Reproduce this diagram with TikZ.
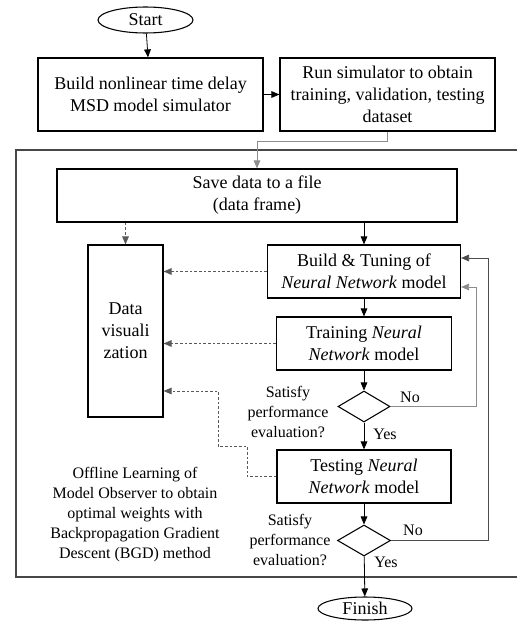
\documentclass[tikz,border=0pt]{standalone}
\usepackage{fontspec}
\setmainfont{Liberation Serif}
\usetikzlibrary{shapes.geometric,arrows.meta}
\colorlet{gyl}{black!45}
\colorlet{dkl}{black!70}
\colorlet{frm}{black!72}

\begin{document}
\begin{tikzpicture}[
        x=0.75pt, y=-0.75pt,
        box/.style={draw, line width=0.9pt, align=center, inner sep=1pt,
            font=\fontsize{13.5}{16.5}\selectfont},
        term/.style={draw, ellipse, line width=0.8pt, inner sep=0pt,
            font=\fontsize{13.5}{16}\selectfont},
        dec/.style={draw, diamond, line width=0.8pt, inner sep=0pt},
        lab/.style={align=center, inner sep=0pt, font=\fontsize{12}{15}\selectfont},
        arr/.style={-{Triangle[length=6pt,width=5pt]}, line width=0.6pt},
        dsh/.style={arr, black!65, dash pattern=on 2pt off 1.5pt}
    ]
    \useasboundingbox (0,0) rectangle (517,621);
    % outer frame
    \draw[frm, line width=1.4pt] (520,150) -- (16,150) -- (16,577) -- (520,577);

    \node[term, minimum width=71.25pt, minimum height=19.5pt] (start) at (145.5,20) {Start};
    \node[box, minimum width=168.75pt, minimum height=54.75pt] (simbuild) at (150.5,94.5)
        {Build nonlinear time delay\\MSD model simulator};
    \node[box, minimum width=161.25pt, minimum height=54.75pt] (simrun) at (387.5,94.5)
        {Run simulator to obtain\\training, validation, testing\\dataset};
    \node[box, minimum width=300pt, minimum height=39.75pt] (save) at (257,195.5)
        {Save data to a file\\(data frame)};
    \node[box, minimum width=56.25pt, minimum height=129pt] (dataviz) at (125.5,331)
        {Data\\visuali\\zation};
    \node[box, minimum width=144.75pt, minimum height=39.75pt] (tuning) at (364,271.5)
        {Build \& Tuning of\\\textit{Neural Network} model};
    \node[box, minimum width=131.25pt, minimum height=39.75pt] (training) at (364,343.5)
        {Training \textit{Neural}\\\textit{Network} model};
    \node[dec, minimum width=39pt, minimum height=23.25pt] (chk1) at (364,406.5) {};
    \node[box, minimum width=130.5pt, minimum height=39.75pt] (testing) at (364,476.5)
        {Testing \textit{Neural}\\\textit{Network} model};
    \node[dec, minimum width=39.75pt, minimum height=23.25pt] (chk2) at (364,540.5) {};
    \node[term, minimum width=70.5pt, minimum height=17.25pt] (finish) at (365,608.5) {Finish};

    \node[lab] (ask1) at (288,412) {Satisfy\\performance\\evaluation?};
    \node[lab] (ask2) at (290,540) {Satisfy\\performance\\evaluation?};
    \node[lab] (offline) at (135,515)
        {Offline Learning of\\Model Observer to obtain\\optimal weights with\\Backpropagation Gradient\\Descent (BGD) method};
    \node[lab] (no1) at (410,397) {No};
    \node[lab] (no2) at (413,530) {No};
    \node[lab] (yes1) at (385,434) {Yes};
    \node[lab] (yes2) at (386,562) {Yes};

    \coordinate (back1) at (476,287);
    \coordinate (back2) at (488,258);
    \coordinate (dt1) at (247,446);
    \coordinate (dt2) at (218,391);

    \draw[arr] (start) -- (simbuild);
    \draw[arr] (simbuild) -- (simrun);
    \draw[arr, gyl] (simrun.south) -- ++(0,10) -| (save.north);
    \draw[dsh] (save.south -| dataviz.north) -- (dataviz.north);
    \draw[arr] (save.south -| tuning.north) -- (tuning.north);
    \draw[dsh] (tuning.west) -- (tuning.west -| dataviz.east);
    \draw[arr] (tuning) -- (training);
    \draw[dsh] (training.west) -- (training.west -| dataviz.east);
    \draw[arr] (training) -- (chk1);
    \draw[arr, gyl] (chk1.east) -| (back1) -- (back1 -| tuning.east);
    \draw[arr] (chk1) -- (testing);
    \draw[dsh] (testing.west) -| (dt1) -| (dt2) -- (dt2 -| dataviz.east);
    \draw[arr] (testing) -- (chk2);
    \draw[arr, dkl] (chk2.east) -| (back2) -- (back2 -| tuning.east);
    \draw[arr] (chk2) -- (finish);
\end{tikzpicture}
\end{document}
